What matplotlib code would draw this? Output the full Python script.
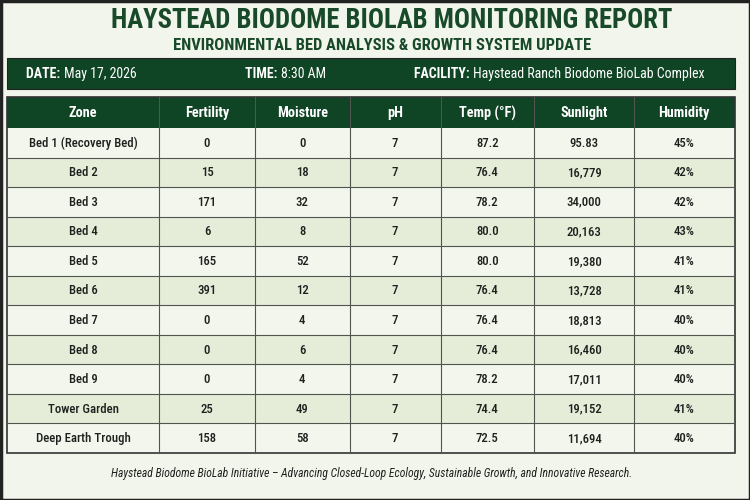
import matplotlib
matplotlib.use("Agg")
import matplotlib.pyplot as plt
from matplotlib import font_manager as fm
from matplotlib.patches import Rectangle

# ---------------- data ----------------
title = "HAYSTEAD BIODOME BIOLAB MONITORING REPORT"
subtitle = "ENVIRONMENTAL BED ANALYSIS & GROWTH SYSTEM UPDATE"
info_labels = ["DATE:", "TIME:", "FACILITY:"]
info_values = ["May 17, 2026", "8:30 AM", "Haystead Ranch Biodome BioLab Complex"]
columns = ["Zone", "Fertility", "Moisture", "pH", "Temp (°F)", "Sunlight", "Humidity"]
zones = ["Bed 1 (Recovery Bed)", "Bed 2", "Bed 3", "Bed 4", "Bed 5", "Bed 6",
         "Bed 7", "Bed 8", "Bed 9", "Tower Garden", "Deep Earth Trough"]
fertility = ["0", "15", "171", "6", "165", "391", "0", "0", "0", "25", "158"]
moisture = ["0", "18", "32", "8", "52", "12", "4", "6", "4", "49", "58"]
ph = ["7"] * 11
temp = ["87.2", "76.4", "78.2", "80.0", "80.0", "76.4", "76.4", "76.4", "78.2", "74.4", "72.5"]
sunlight = ["95.83", "16,779", "34,000", "20,163", "19,380", "13,728", "18,813",
            "16,460", "17,011", "19,152", "11,694"]
humidity = ["45%", "42%", "42%", "43%", "41%", "41%", "40%", "40%", "40%", "41%", "40%"]
footer = ("Haystead Biodome BioLab Initiative \u2013 Advancing Closed-Loop Ecology, "
          "Sustainable Growth, and Innovative Research.")

# ---------------- font choice ----------------
names = {f.name for f in fm.fontManager.ttflist}
family = None
for cand in ["Roboto Condensed", "Liberation Sans Narrow", "Open Sans Condensed",
             "Noto Sans Condensed", "DejaVu Sans Condensed"]:
    if cand in names:
        family = cand
        break
stretch = "normal"
if family is None:
    dv = [f for f in fm.fontManager.ttflist if f.name == "DejaVu Sans" and f.stretch == "condensed"]
    if dv:
        family = "DejaVu Sans"
        stretch = "condensed"
    else:
        family = "Roboto"
plt.rcParams["font.family"] = [family, "DejaVu Sans"]
plt.rcParams["font.stretch"] = stretch

DARK = "#0f4424"
TITLE_C = "#184a2a"
BG = "#f2f5eb"
ROW_A = "#f3f6ec"
ROW_B = "#e5edd9"
GRID = "#50554f"
TXT = "#1e211e"

fig = plt.figure(figsize=(7.5, 5), dpi=100)
fig.patch.set_facecolor(BG)
ax = fig.add_axes([0, 0, 1, 1])
ax.set_xlim(0, 750)
ax.set_ylim(500, 0)
ax.axis("off")

# outer border
ax.add_patch(Rectangle((0.5, 0.5), 749, 499, fill=False, ec="#222", lw=2.5))

ax.text(391.5, 21, title, ha="center", va="center", fontsize=19.2, fontweight="bold", color=TITLE_C)
ax.text(382.5, 45, subtitle, ha="center", va="center", fontsize=11.9, fontweight="bold", color=TITLE_C)

# info bar
ax.add_patch(Rectangle((7, 58), 727.5, 31, fc=DARK, ec="#222", lw=0.8))
info_x = [26, 245, 414]
for x, lab, val in zip(info_x, info_labels, info_values):
    t = ax.text(x, 74, lab + " ", ha="left", va="center", fontsize=10, fontweight="bold", color="white")
    fig.canvas.draw()
    bb = t.get_window_extent()
    x2 = ax.transData.inverted().transform((bb.x1, bb.y0))[0]
    ax.text(x2, 74, val, ha="left", va="center", fontsize=10, color="white")

# table
col_edges = [7, 159, 255, 349.5, 440.5, 534, 634, 734.5]
top_head = 97
head_bot = 128
table_bot = 453
n = len(zones)
row_h = (table_bot - head_bot) / n

ax.add_patch(Rectangle((col_edges[0], top_head), col_edges[-1] - col_edges[0], head_bot - top_head,
                       fc=DARK, ec="none"))
for i, c in enumerate(columns):
    cx = (col_edges[i] + col_edges[i + 1]) / 2
    ax.text(cx, (top_head + head_bot) / 2 + 0.5, c, ha="center", va="center", fontsize=10.3,
            fontweight="bold", color="white")

data_cols = [zones, fertility, moisture, ph, temp, sunlight, humidity]
for r in range(n):
    y0 = head_bot + r * row_h
    ax.add_patch(Rectangle((col_edges[0], y0), col_edges[-1] - col_edges[0], row_h,
                           fc=ROW_A if r % 2 == 0 else ROW_B, ec="none"))
    for i, col in enumerate(data_cols):
        cx = (col_edges[i] + col_edges[i + 1]) / 2
        ax.text(cx, y0 + row_h / 2 + 0.5, col[r], ha="center", va="center", fontsize=9.2,
                fontweight="medium", color=TXT)

# grid lines
for r in range(1, n):
    y = head_bot + r * row_h
    ax.plot([col_edges[0], col_edges[-1]], [y, y], color=GRID, lw=0.8)
for x in col_edges[1:-1]:
    ax.plot([x, x], [top_head, table_bot], color=GRID, lw=0.8)
ax.add_patch(Rectangle((col_edges[0], top_head), col_edges[-1] - col_edges[0], table_bot - top_head,
                       fill=False, ec="#333", lw=1.2))

ax.text(372, 474, footer, ha="center", va="center", fontsize=8.4, style="italic", color=TXT)

fig.savefig("out.png", dpi=100, facecolor=fig.get_facecolor())
